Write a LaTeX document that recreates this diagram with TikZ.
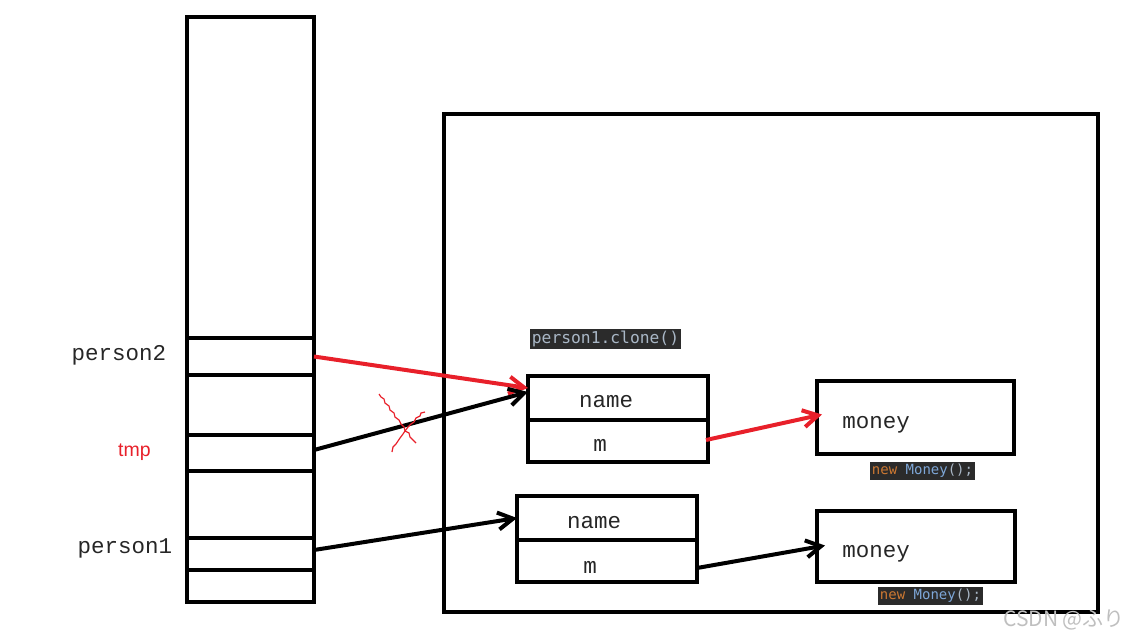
\documentclass[tikz,border=0pt]{standalone}
\usepackage{fontspec}
\setmainfont{Liberation Serif}
\newfontfamily\labfont{Liberation Mono}
\newfontfamily\sansfont{Liberation Sans}
\newfontfamily\codefont{DejaVu Sans Mono}
\newfontfamily\wmfont{Noto Sans CJK JP}
\usetikzlibrary{arrows.meta,calc}
\definecolor{myred}{HTML}{E8202A}
\definecolor{codebg}{HTML}{2B2B2B}
\definecolor{codefg}{HTML}{A9B7C6}
\definecolor{kwor}{HTML}{CC7832}
\definecolor{clsblue}{HTML}{7EA7D8}
\tikzset{
  box/.style={draw=black,line width=4pt,inner sep=0pt,outer sep=0pt,rectangle},
  lab/.style={font=\labfont\fontsize{22.5}{24}\selectfont,text=black!85,inner sep=0pt},
  code/.style={fill=codebg,inner sep=2pt,font=\codefont\fontsize{16.3}{18}\selectfont,text=codefg},
  smallcode/.style={fill=codebg,inner sep=2pt,font=\codefont\fontsize{14}{15}\selectfont,text=codefg},
  arr/.style={line width=4pt,-{Straight Barb[length=15pt,width=17pt]}},
  redarr/.style={arr,draw=myred},
  blkarr/.style={arr,draw=black},
  cross/.style={draw=myred,line width=1.2pt}
}
\begin{document}
\begin{tikzpicture}[x=1pt,y=-1pt]
\useasboundingbox (0,0) rectangle (1132,640);
% stack
\draw[line width=4pt] (187,17) rectangle (314,602);
\node[box,minimum width=127pt,minimum height=37pt] (p2slot) at (250.5,356.5) {};
\node[box,minimum width=127pt,minimum height=36pt] (tmpslot) at (250.5,453) {};
\node[box,minimum width=127pt,minimum height=32pt] (p1slot) at (250.5,554) {};
\draw[line width=4pt] (187,570) -- (314,570);
% stack labels
\node[lab] (p2lab) at (119,355) {person2};
\node[inner sep=0pt,font=\sansfont\fontsize{19.5}{21}\selectfont,text=myred] (tmplab) at (134.5,452) {tmp};
\node[lab] (p1lab) at (125,548) {person1};
% heap
\draw[line width=4pt] (444,114) rectangle (1098,612);
% clone object
\node[code] (clonecode) at (605.5,339) {person1.clone()};
\node[box,minimum width=180pt,minimum height=44pt] (cname) at (618,398) {};
\node[box,minimum width=180pt,minimum height=42pt] (cm) at (618,441) {};
\node[lab] (cnametxt) at (606,402) {name};
\node[lab] (cmtxt) at (600,445) {m};
% original object
\node[box,minimum width=180pt,minimum height=44pt] (oname) at (607,518) {};
\node[box,minimum width=180pt,minimum height=42pt] (om) at (607,561) {};
\node[lab] (onametxt) at (594,523) {name};
\node[lab] (omtxt) at (590,567) {m};
% money objects
\node[box,minimum width=197pt,minimum height=73pt] (money1) at (915.5,417.5) {};
\node[lab] (money1txt) at (876,425) {money};
\node[smallcode] (new1) at (922.5,471) {\textcolor{kwor}{new} \textcolor{clsblue}{Money}();};
\node[box,minimum width=198pt,minimum height=71pt] (money2) at (916,546.5) {};
\node[lab] (money2txt) at (876,554) {money};
\node[smallcode] (new2) at (930.5,596) {\textcolor{kwor}{new} \textcolor{clsblue}{Money}();};
% arrows
\draw[redarr] (p2slot.east) -- ($(cname.west)+(0,-10)$);
\draw[blkarr] ($(tmpslot.east)+(0,-3)$) -- ($(cname.west)+(0,-6)$);
\draw[redarr] ($(cm.east)+(-2,-1)$) -- ($(money1.west)+(5,-3)$);
\draw[blkarr] ($(p1slot.east)+(0,-4)$) -- (oname.west);
\draw[blkarr] ($(om.east)+(0,7)$) -- ($(money2.west)+(8,-1)$);
% red cross
\draw[cross] (379,394) -- (381,397) -- (384,399) -- (385,403) -- (389,406) -- (390,410) -- (394,413) -- (395,417) -- (399,420) -- (401,424) -- (404,427) -- (405,431) -- (409,433) -- (410,437) -- (413,440) -- (416,443);
\draw[cross] (425,412) -- (421,413) -- (420,416) -- (416,418) -- (414,422) -- (411,424) -- (408,427) -- (405,431) -- (403,434) -- (400,438) -- (398,441) -- (396,444) -- (393,447) -- (392,452);
% watermark
\node[inner sep=0pt,font=\wmfont\fontsize{21}{23}\selectfont,text=black!25] (wm) at (1064,620) {CSDN @ふり};
\end{tikzpicture}
\end{document}
